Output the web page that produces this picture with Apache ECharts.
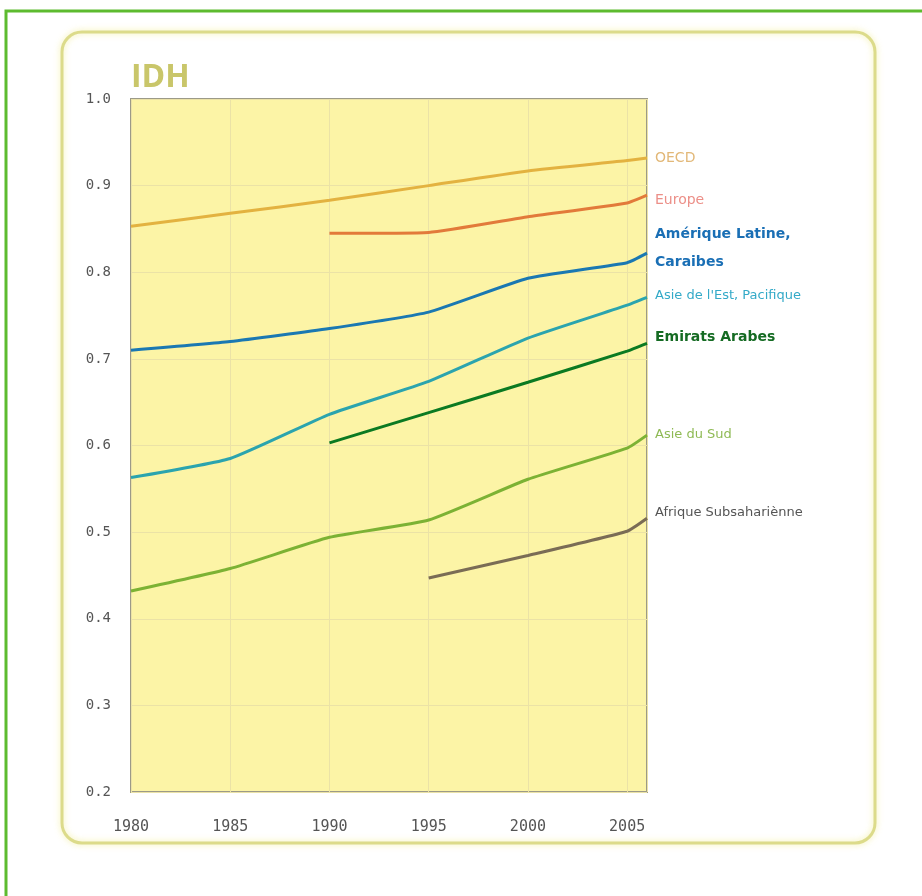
<!DOCTYPE html>
<html>
<head>
<meta charset="utf-8">
<script src="https://cdn.jsdelivr.net/npm/echarts@6/dist/echarts.min.js"></script>
<style>
html,body{margin:0;padding:0;background:#fff;}
#chart{width:922px;height:896px;}
</style>
</head>
<body>
<div id="chart"></div>
<script>
var years = [1980, 1985, 1990, 1995, 2000, 2005, 2006];
var yTicks = [0.2, 0.3, 0.4, 0.5, 0.6, 0.7, 0.8, 0.9, 1.0];
var xTicks = [1980, 1985, 1990, 1995, 2000, 2005];

var oecd      = [0.853, 0.868, 0.883, 0.900, 0.917, 0.929, 0.932];
var europe    = [null, null, 0.845, 0.846, 0.864, 0.880, 0.889];
var latinAm   = [0.710, 0.720, 0.735, 0.754, 0.793, 0.811, 0.822];
var eastAsia  = [0.563, 0.585, 0.636, 0.674, 0.724, 0.762, 0.771];
var emirats   = [null, null, 0.603, 0.638, 0.673, 0.709, 0.718];
var southAsia = [0.432, 0.458, 0.494, 0.514, 0.561, 0.597, 0.612];
var africa    = [null, null, null, 0.447, 0.473, 0.501, 0.516];

var names = ['OECD', 'Europe', 'Amérique Latine,\nCaraibes', "Asie de l'Est, Pacifique",
             'Emirats Arabes', 'Asie du Sud', 'Afrique Subsahariènne'];

function pairs(vals) {
  var out = [];
  for (var i = 0; i < years.length; i++) {
    if (vals[i] !== null) out.push([years[i], vals[i]]);
  }
  return out;
}

var styles = [
  {line: '#e3b240', text: '#e2b878', bold: false, dy: 0, size: 14},
  {line: '#e27a3a', text: '#ec8f88', bold: false, dy: 5, size: 14},
  {line: '#1a78b2', text: '#1a6fb5', bold: true, dy: -5, size: 14},
  {line: '#2ba4ae', text: '#34aac8', bold: false, dy: -2, size: 13},
  {line: '#0b7a22', text: '#156b23', bold: true, dy: -6, size: 14},
  {line: '#7cb234', text: '#8fba55', bold: false, dy: 0, size: 13},
  {line: '#7a6c55', text: '#555555', bold: false, dy: -6, size: 13}
];
var allData = [oecd, europe, latinAm, eastAsia, emirats, southAsia, africa];

var series = allData.map(function (d, i) {
  var s = styles[i];
  return {
    name: names[i],
    type: 'line',
    data: pairs(d),
    smooth: 0.15,
    symbol: 'none',
    lineStyle: {color: s.line, width: 3},
    emphasis: {disabled: true},
    endLabel: {
      show: true,
      formatter: names[i],
      color: s.text,
      fontFamily: 'DejaVu Sans',
      fontSize: s.size,
      fontWeight: s.bold ? 'bold' : 'normal',
      lineHeight: 28,
      distance: 8,
      offset: [0, s.dy],
      align: 'left',
      verticalAlign: 'middle'
    }
  };
});

var chart = echarts.init(document.getElementById('chart'), null, {renderer: 'canvas'});
chart.setOption({
  animation: false,
  backgroundColor: '#ffffff',
  title: {
    text: 'IDH',
    left: 126,
    top: 57,
    textStyle: {
      color: '#c9c66a',
      fontSize: 32,
      fontWeight: 'bold',
      fontFamily: 'Liberation Sans Narrow, Open Sans, sans-serif'
    }
  },
  graphic: [
    {type: 'rect', shape: {x: 6, y: 11, width: 960, height: 920}, silent: true,
     style: {fill: 'none', stroke: '#5dbb2f', lineWidth: 3}},
    {type: 'rect', shape: {x: 62, y: 32, width: 813, height: 811, r: 20}, silent: true,
     style: {fill: 'none', stroke: '#dcdb8a', lineWidth: 3, shadowBlur: 6, shadowColor: 'rgba(240,235,140,0.8)'}}
  ],
  grid: {
    left: 131, top: 99, right: 275, bottom: 104,
    show: true,
    backgroundColor: '#fcf4a6',
    borderColor: '#9c9a88',
    borderWidth: 2
  },
  xAxis: {
    type: 'value',
    min: 1980,
    max: 2006,
    interval: 5,
    axisLine: {show: false},
    axisTick: {show: false},
    splitLine: {show: true, lineStyle: {color: '#ebe2a6', width: 1}},
    axisLabel: {
      margin: 28,
      color: '#555555',
      fontSize: 15,
      fontFamily: 'DejaVu Sans Mono',
      showMaxLabel: false,
      formatter: function (v) { return xTicks.indexOf(v) >= 0 ? String(v) : ''; }
    }
  },
  yAxis: {
    type: 'value',
    min: 0.2,
    max: 1.0,
    interval: 0.1,
    axisLine: {show: false},
    axisTick: {show: false},
    splitLine: {show: true, lineStyle: {color: '#ebe2a6', width: 1}},
    axisLabel: {
      margin: 20,
      color: '#555555',
      fontSize: 14,
      fontFamily: 'DejaVu Sans Mono',
      formatter: function (v) {
        var r = Math.round(v * 10) / 10;
        return yTicks.indexOf(r) >= 0 ? r.toFixed(1) : '';
      }
    }
  },
  series: series
});
</script>
</body>
</html>
